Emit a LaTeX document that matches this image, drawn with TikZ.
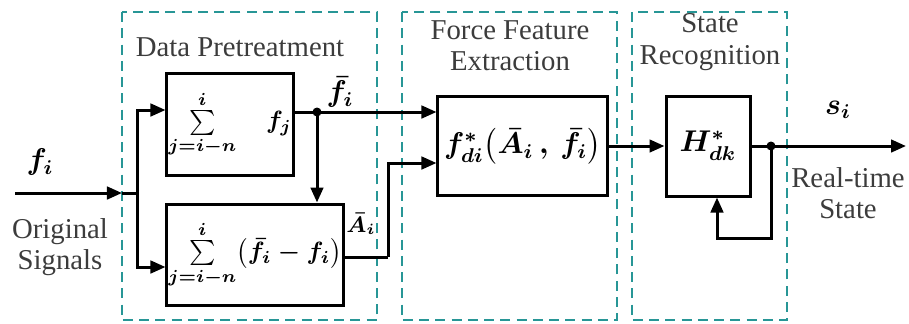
\documentclass[tikz,border=0pt]{standalone}
\usepackage{amsmath}
\usepackage{bm}
\usepackage{fontspec}
\setmainfont{Liberation Serif}
\usetikzlibrary{arrows.meta}
\definecolor{grpcol}{RGB}{40,150,150}
\definecolor{txtcol}{RGB}{60,60,60}

\begin{document}
\begin{tikzpicture}[x=0.4pt, y=-0.4pt,
  blk/.style={draw, line width=1.2pt, inner sep=0pt, font=\large\boldmath},
  sumblk/.style={blk, font=\normalsize\boldmath},
  grp/.style={draw=grpcol, dashed, line width=0.8pt, dash pattern=on 4pt off 2.5pt},
  sig/.style={line width=1.2pt},
  arr/.style={sig, -{Triangle[length=6pt, width=5pt]}},
  lbl/.style={text=txtcol, font=\fontsize{11.5}{12.5}\selectfont, align=center, inner sep=0pt},
  mth/.style={font=\large\boldmath, inner sep=0pt}]
\useasboundingbox (0,0) rectangle (909,323);

% dashed stage frames
\draw[grp] (122,12) rectangle (377,320);
\draw[grp] (402,12) rectangle (617,320);
\draw[grp] (632,12) rectangle (787,320);
\node[lbl] (hdp) at (240,47) {Data Pretreatment};
\node[lbl] (hffe) at (510,46) {Force Feature\\Extraction};
\node[lbl] (hsr) at (710,42) {State\\Recognition};

% blocks
\node[sumblk, minimum width=50.4pt, minimum height=40.8pt] (sum1) at (230,124)
  {$\sum\limits_{j=i-n}^{i}\quad {\large f_{j}}$};
\node[sumblk, minimum width=70.4pt, minimum height=40.4pt] (sum2) at (255,254.5)
  {$\sum\limits_{j=i-n}^{i}\bigl(\bar{f}_{i}-f_{i}\bigr)$};
\node[blk, minimum width=67.6pt, minimum height=39.6pt] (ffe) at (522.5,146)
  {$f^{*}_{di}\bigl(\bar{A}_{i}\,,\,\bar{f}_{i}\bigr)$};
\node[blk, minimum width=33.6pt, minimum height=40pt] (hdk) at (708,146)
  {$H^{*}_{dk}$};

% input and branches
\coordinate (in) at (15,193);
\coordinate (inhead) at (122,193);
\coordinate (br) at (137,193);
\draw[arr] (in) -- (inhead);
\draw[sig] (inhead) -- (br);
\draw[arr] (br) |- (sum1.west |- 0,110);
\draw[arr] (br) |- (sum2.west |- 0,267);
\node[mth] (fi) at (40,162) {$f_{i}$};
\node[lbl] (orig) at (60,247) {Original\\Signals};

% mean value and amplitude
\coordinate (j1) at (317,112);
\draw[sig] (sum1.east |- j1) -- (j1);
\fill (j1) circle (4.5);
\draw[arr] (j1) -- (ffe.west |- j1);
\draw[arr] (j1) -- (j1 |- sum2.north);
\node[mth] (fbar) at (340,92) {$\bar{f}_{i}$};
\coordinate (bend) at (388,257);
\draw[sig] (sum2.east |- bend) -- (bend);
\draw[arr] (bend) |- (ffe.west |- 0,163);
\node[mth, font=\small\boldmath] (abar) at (361,224) {$\bar{A}_{i}$};

% recognition and output
\draw[arr] (ffe.east) -- (hdk.west);
\coordinate (j2) at (771,146);
\coordinate (out) at (906,146);
\draw[sig] (hdk.east) -- (j2);
\draw[arr] (j2) -- (out);
\fill (j2) circle (4.5);
\draw[arr] (j2) |- (717,238) -- (hdk.south -| 717,0);
\node[mth] (si) at (838,110) {$s_{i}$};
\node[lbl] (rts) at (848,193) {Real-time\\State};
\end{tikzpicture}
\end{document}
